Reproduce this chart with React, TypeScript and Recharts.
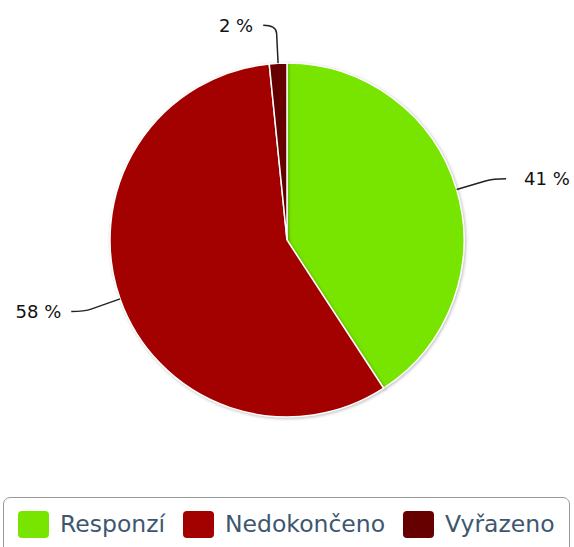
import { Cell, Legend, Pie, PieChart } from "recharts";

const CATEGORIES = ["Responzí", "Nedokončeno", "Vyřazeno"];
const VALUES = [40.8, 57.6, 1.6];
const COLORS = ["#77E500", "#A30000", "#660000"];

const FONT = "'DejaVu Sans', Verdana, sans-serif";
const RAD = Math.PI / 180;

const data = CATEGORIES.map((name, i) => ({ name, value: VALUES[i], fill: COLORS[i] }));

function SliceLabel(props: any) {
  const { cx, cy, midAngle, outerRadius, percent } = props;
  const cos = Math.cos(-midAngle * RAD);
  const sin = Math.sin(-midAngle * RAD);
  const sx = cx + outerRadius * cos;
  const sy = cy + outerRadius * sin;
  const bx = cx + (outerRadius + 30) * cos;
  const by = cy + (outerRadius + 30) * sin;
  const mx = cx + (outerRadius + 38) * cos;
  const my = cy + (outerRadius + 38) * sin;
  const side = cos >= 0 ? 1 : -1;
  const ex = mx + side * 13;
  const ey = my;
  return (
    <g>
      <path
        d={`M${sx},${sy} L${bx},${by} Q${mx},${my} ${ex},${ey}`}
        stroke="#222"
        strokeWidth={1.5}
        fill="none"
      />
      <text
        x={ex + side * (side > 0 ? 18 : 10)}
        y={ey}
        textAnchor={side > 0 ? "start" : "end"}
        dominantBaseline="central"
        fontFamily={FONT}
        fontSize={18}
        fill="#111"
      >
        {`${Math.round(percent * 100)} %`}
      </text>
    </g>
  );
}

function LegendBox({ payload }: any) {
  const items = [...(payload || [])].sort(
    (a: any, b: any) => CATEGORIES.indexOf(a.value) - CATEGORIES.indexOf(b.value)
  );
  return (
    <div
      style={{
        boxSizing: "border-box",
        width: 567,
        height: 60,
        border: "1.5px solid #999",
        borderRadius: 7,
        display: "flex",
        alignItems: "center",
        paddingLeft: 14,
        paddingBottom: 6,
        fontFamily: FONT,
      }}
    >
      {items.map((p: any, i: number) => (
        <div key={i} style={{ display: "flex", alignItems: "center", marginRight: 18 }}>
          <div
            style={{
              width: 31,
              height: 27,
              borderRadius: 4,
              background: p.color,
              marginRight: 11,
            }}
          />
          <span style={{ fontSize: 23.5, color: "#3E576F" }}>{p.value}</span>
        </div>
      ))}
    </div>
  );
}

export default function App() {
  return (
    <div style={{ position: "absolute", left: 0, top: 0, background: "#fff" }}>
      <style>{`.recharts-pie-sector path { filter: drop-shadow(1px 1px 1.5px rgba(0,0,0,0.25)); }`}</style>
      <PieChart width={574} height={547} margin={{ top: 0, right: 0, bottom: 0, left: 0 }}>
        <Pie
          data={data}
          dataKey="value"
          nameKey="name"
          cx={287}
          cy={240}
          outerRadius={177}
          startAngle={90}
          endAngle={-270}
          stroke="#fff"
          strokeWidth={1.5}
          label={SliceLabel}
          labelLine={false}
          isAnimationActive={false}
        >
          {data.map((d, i) => (
            <Cell key={i} fill={d.fill} />
          ))}
        </Pie>
        <Legend
          content={LegendBox}
          wrapperStyle={{ left: 3, top: 497, width: 567, height: 60 }}
        />
      </PieChart>
    </div>
  );
}
